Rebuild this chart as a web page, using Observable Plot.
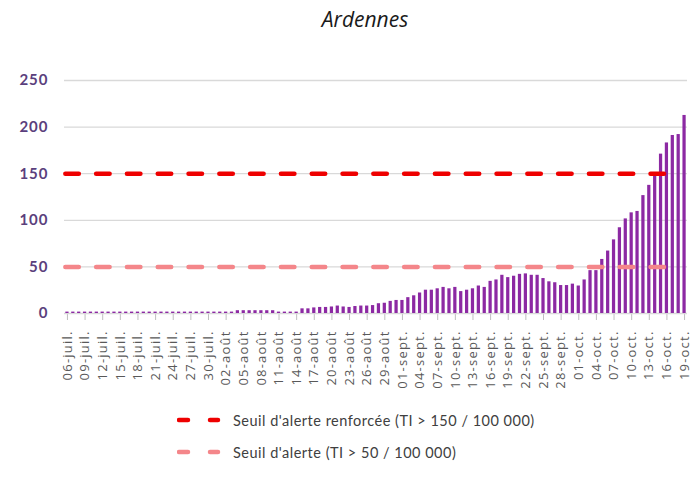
<!DOCTYPE html>
<html>
<head>
<meta charset="utf-8">
<script src="https://cdn.jsdelivr.net/npm/d3@7"></script>
<script src="https://cdn.jsdelivr.net/npm/@observablehq/plot@0.6"></script>
<style>
  body { margin: 0; background: #fff; }
  #wrap { position: relative; width: 700px; height: 477px; overflow: hidden; }
  #title { position: absolute; top: 5px; left: 365px; transform: translateX(-50%);
           font: italic 21px "Open Sans"; color: #1a1a1a; white-space: nowrap; }
  #chart { position: absolute; top: 44px; left: 0; }
  .leg { position: absolute; left: 177px; height: 20px; display: flex; align-items: center;
         font: 14.5px Lato; letter-spacing: 0.5px; color: #404040; white-space: nowrap; }
  .leg svg { margin-right: 12px; }
</style>
</head>
<body>
<div id="wrap">
  <div id="title">Ardennes</div>
  <div id="chart"></div>
</div>
<script>
// Categories: one per day
const days = [
  "06-juil.","07-juil.","08-juil.","09-juil.","10-juil.","11-juil.","12-juil.","13-juil.","14-juil.","15-juil.",
  "16-juil.","17-juil.","18-juil.","19-juil.","20-juil.","21-juil.","22-juil.","23-juil.","24-juil.","25-juil.",
  "26-juil.","27-juil.","28-juil.","29-juil.","30-juil.","31-juil.",
  "01-août","02-août","03-août","04-août","05-août","06-août","07-août","08-août","09-août","10-août",
  "11-août","12-août","13-août","14-août","15-août","16-août","17-août","18-août","19-août","20-août",
  "21-août","22-août","23-août","24-août","25-août","26-août","27-août","28-août","29-août","30-août","31-août",
  "01-sept.","02-sept.","03-sept.","04-sept.","05-sept.","06-sept.","07-sept.","08-sept.","09-sept.","10-sept.",
  "11-sept.","12-sept.","13-sept.","14-sept.","15-sept.","16-sept.","17-sept.","18-sept.","19-sept.","20-sept.",
  "21-sept.","22-sept.","23-sept.","24-sept.","25-sept.","26-sept.","27-sept.","28-sept.","29-sept.","30-sept.",
  "01-oct.","02-oct.","03-oct.","04-oct.","05-oct.","06-oct.","07-oct.","08-oct.","09-oct.","10-oct.",
  "11-oct.","12-oct.","13-oct.","14-oct.","15-oct.","16-oct.","17-oct.","18-oct.","19-oct."
];

// Incidence rate per 100 000
const values = [
  1.5,1.5,1.5,1.5,1.5,1.5,1.5,1.5,1.5,1.5,
  1.5,1.5,1.5,1.5,1.5,1.5,1.5,1.5,1.5,1.5,
  1.5,1.5,1.5,1.5,1.5,1.5,1.5,1.5,1.5,
  3,3,3,3,3,3,3,
  1.5,1.5,1.5,1.5,
  5,5,6,6.5,6.5,7,8,7,6.5,7.5,8,8,8.5,10.5,
  11,13,14,14,17,19,22,25,25,26.5,
  28,26.5,28,23.5,25,26.5,29.5,28,34.5,36,
  41,38.5,40,42,42.5,41,41,37.5,34,33,
  30,30,31.5,29.5,36,46,46,58,67,79,
  92,101.5,108,109.5,126.5,137.5,149,171,183,191,
  192,212.5
];

// Tick labels shown on the x axis (every 3 days)
const tickLabels = [
  "06-juil.","09-juil.","12-juil.","15-juil.","18-juil.","21-juil.","24-juil.","27-juil.","30-juil.",
  "02-août","05-août","08-août","11-août","14-août","17-août","20-août","23-août","26-août","29-août",
  "01-sept.","04-sept.","07-sept.","10-sept.","13-sept.","16-sept.","19-sept.","22-sept.","25-sept.","28-sept.",
  "01-oct.","04-oct.","07-oct.","10-oct.","13-oct.","16-oct.","19-oct."
];

const yTicks = [0, 50, 100, 150, 200, 250];

// Alert thresholds
const thresholdValues = [150, 50];
const thresholdColors = ["#ee0000", "#f4868a"];
const thresholdLabels = [
  "Seuil d'alerte renforcée (TI > 150 / 100 000)",
  "Seuil d'alerte (TI > 50 / 100 000)"
];
const thresholdStart = "06-juil.";
const thresholdEnd = "16-oct.";

const barColor = "#8c29a3";

const rows = days.map((day, i) => ({day, value: values[i]}));

const chart = Plot.plot({
  width: 700,
  height: 350,
  marginLeft: 64,
  marginRight: 13,
  marginTop: 36,
  marginBottom: 81,
  style: {fontFamily: "Open Sans", fontSize: "13px", background: "transparent", overflow: "visible"},
  x: {domain: days, paddingInner: 0.45, paddingOuter: 0.225, ticks: tickLabels,
      tickRotate: -90, tickSize: 7, tickPadding: 10, label: null},
  y: {domain: [0, 250], ticks: yTicks, tickSize: 0, tickPadding: 16, label: null},
  marks: [
    Plot.ruleY(yTicks, {stroke: "#d9d9d9", strokeWidth: 1.3}),
    Plot.barY(rows, {x: "day", y: "value", fill: barColor}),
    ...thresholdValues.map((t, k) =>
      Plot.ruleY([t], {
        x1: () => thresholdStart, x2: () => thresholdEnd,
        stroke: thresholdColors[k], strokeWidth: 4.5,
        strokeDasharray: "13.5 17.3", strokeLinecap: "round"
      }))
  ]
});

document.getElementById("chart").appendChild(chart);

const svg = d3.select(chart);
svg.selectAll('g[aria-label^="y-axis"] text')
  .attr("fill", "#5b3f7d")
  .style("font-family", "Lato").style("font-weight", "700")
  .style("font-size", "15px").style("letter-spacing", "1px");
svg.selectAll('g[aria-label^="x-axis"] text')
  .attr("fill", "#595959").style("letter-spacing", "1.2px");
svg.selectAll('g[aria-label^="x-axis"] line, g[aria-label^="x-axis"] path')
  .attr("stroke", "#bfbfbf");

// Legend below the chart
const wrap = d3.select("#wrap");
const legendTops = [410, 442];
thresholdLabels.forEach((label, k) => {
  const row = wrap.append("div").attr("class", "leg").style("top", legendTops[k] + "px");
  const sw = row.append("svg").attr("width", 44).attr("height", 10);
  sw.append("line").attr("x1", 2).attr("x2", 41).attr("y1", 5).attr("y2", 5)
    .attr("stroke", thresholdColors[k]).attr("stroke-width", 4.5)
    .attr("stroke-dasharray", "9 22").attr("stroke-linecap", "round");
  row.append("span").text(label);
});
</script>
</body>
</html>
